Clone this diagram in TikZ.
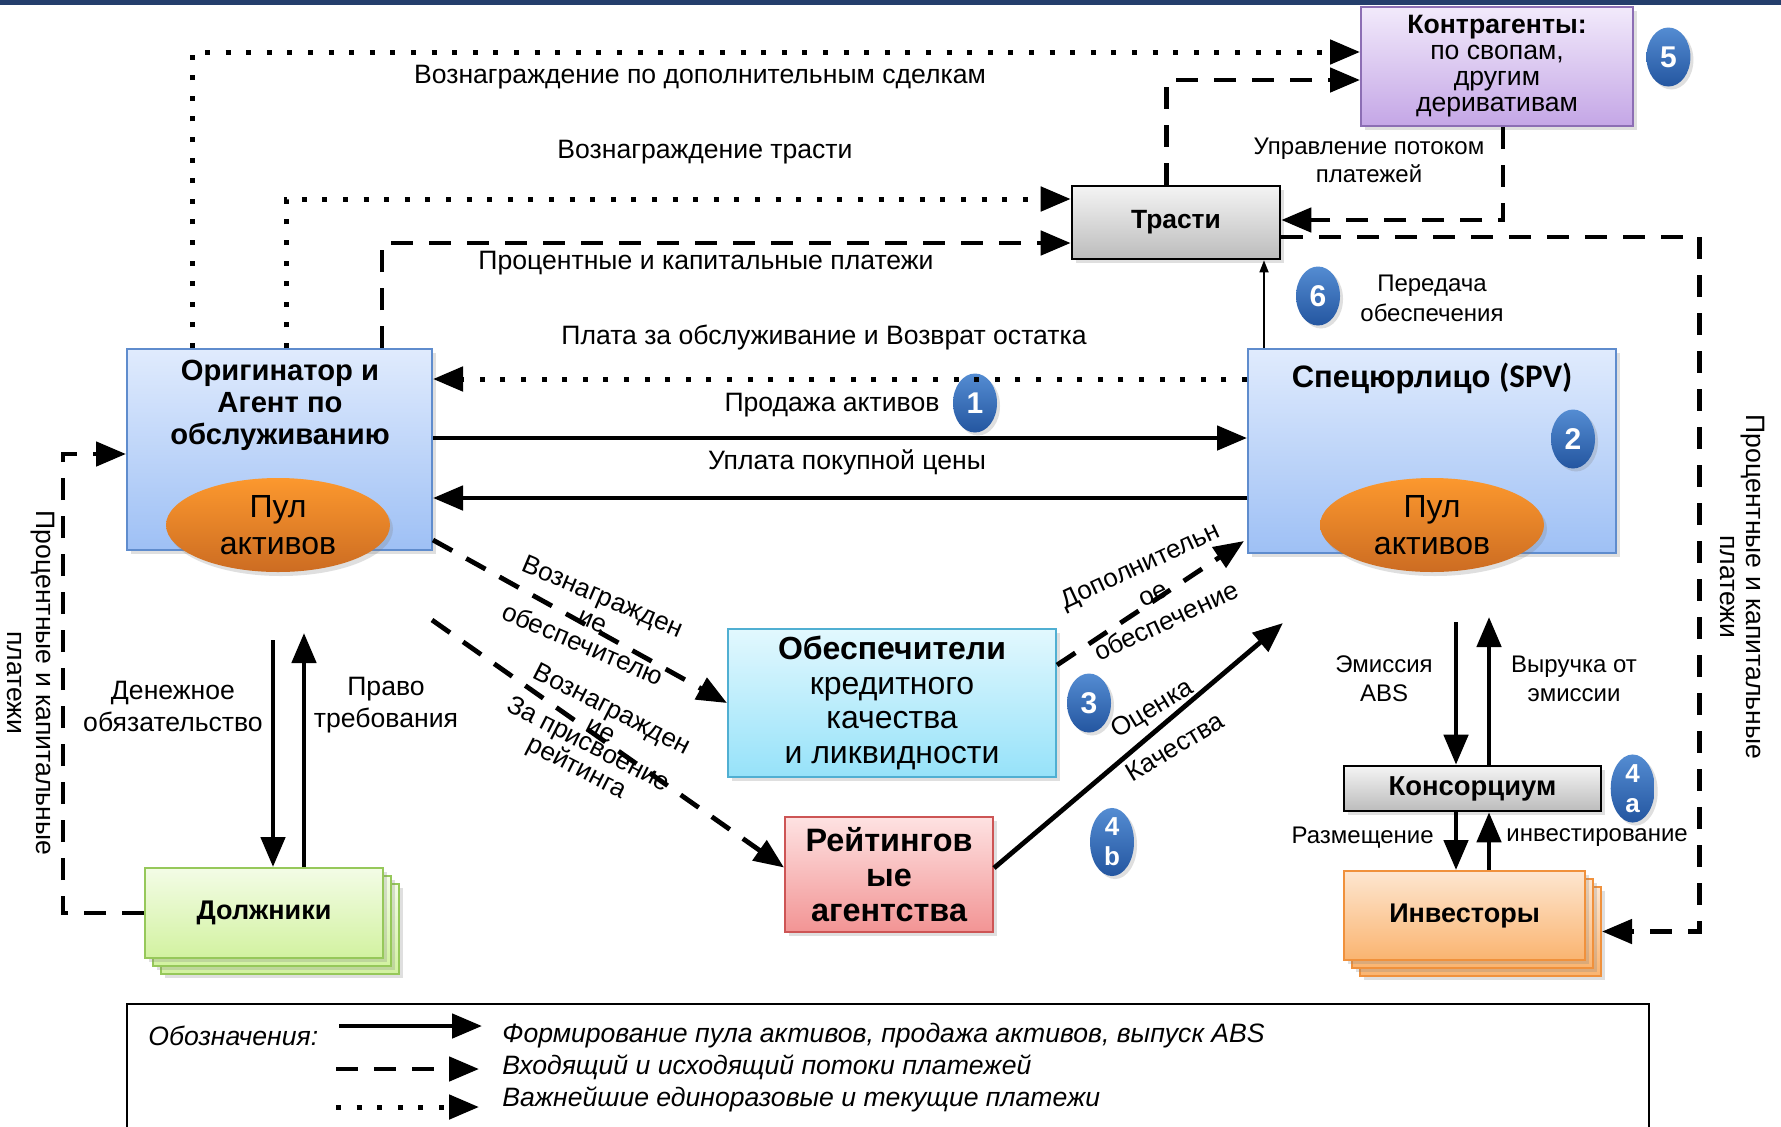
\documentclass[tikz,border=0pt]{standalone}
\usepackage{fontspec}
\setmainfont{Liberation Sans}
\newfontfamily\calib{Carlito}
\usetikzlibrary{arrows.meta,positioning,shapes.geometric,shadows}

\definecolor{navy}{RGB}{36,62,108}
\definecolor{bluetop}{RGB}{224,235,253}
\definecolor{bluebot}{RGB}{158,192,245}
\definecolor{blueedge}{RGB}{95,140,205}
\definecolor{pooltop}{RGB}{252,152,46}
\definecolor{poolbot}{RGB}{204,108,34}
\definecolor{violtop}{RGB}{242,234,251}
\definecolor{violbot}{RGB}{196,166,230}
\definecolor{violedge}{RGB}{140,110,180}
\definecolor{greytop}{RGB}{244,244,244}
\definecolor{greybot}{RGB}{188,188,188}
\definecolor{cyantop}{RGB}{226,248,254}
\definecolor{cyanbot}{RGB}{150,226,249}
\definecolor{cyanedge}{RGB}{80,175,210}
\definecolor{pinktop}{RGB}{254,226,226}
\definecolor{pinkbot}{RGB}{242,148,148}
\definecolor{pinkedge}{RGB}{205,85,85}
\definecolor{limetop}{RGB}{243,252,230}
\definecolor{limebot}{RGB}{210,242,160}
\definecolor{limeedge}{RGB}{150,200,90}
\definecolor{peachtop}{RGB}{253,230,208}
\definecolor{peachbot}{RGB}{250,180,112}
\definecolor{peachedge}{RGB}{240,145,60}
\definecolor{badgetop}{RGB}{84,140,210}
\definecolor{badgebot}{RGB}{36,86,160}

\tikzset{
    box/.style={rectangle,draw,line width=1pt,inner sep=0pt,align=center,
        drop shadow={opacity=0.25,shadow xshift=2pt,shadow yshift=-2pt}},
    origbox/.style={box,draw=blueedge,top color=bluetop,bottom color=bluebot},
    greybox/.style={box,draw=black,line width=1.3pt,top color=greytop,bottom color=greybot,
        font=\fontsize{13.2}{15}\selectfont\bfseries},
    violbox/.style={box,draw=violedge,top color=violtop,bottom color=violbot,
        font=\fontsize{13.3}{13}\selectfont},
    cyanbox/.style={box,draw=cyanedge,top color=cyantop,bottom color=cyanbot,
        font=\fontsize{16}{17.3}\selectfont},
    pinkbox/.style={box,draw=pinkedge,top color=pinktop,bottom color=pinkbot,
        font=\fontsize{16.2}{17.5}\selectfont\bfseries},
    limebox/.style={box,draw=limeedge,top color=limetop,bottom color=limebot,
        minimum width=119pt,minimum height=45pt,font=\fontsize{13.5}{15}\selectfont\bfseries},
    peachbox/.style={box,draw=peachedge,top color=peachtop,bottom color=peachbot,
        minimum width=120.5pt,minimum height=44.5pt,font=\fontsize{13.5}{15}\selectfont\bfseries},
    pool/.style={ellipse,inner sep=0pt,minimum width=112pt,minimum height=47pt,align=center,
        top color=pooltop,bottom color=poolbot,font=\fontsize{16}{18.5}\selectfont,
        drop shadow={opacity=0.25,shadow xshift=1.5pt,shadow yshift=-2pt}},
    badge/.style={ellipse,inner sep=0pt,minimum width=22pt,minimum height=29.5pt,align=center,
        top color=badgetop,bottom color=badgebot,text=white,
        font=\fontsize{15}{15}\selectfont\bfseries,
        drop shadow={opacity=0.25,shadow xshift=1.5pt,shadow yshift=-1.5pt}},
    lbl/.style={inner sep=0pt,align=center,font=\fontsize{13.3}{15}\selectfont},
    small/.style={lbl,font=\fontsize{12}{14.5}\selectfont},
    flow/.style={line width=2.4pt,-{Triangle[length=15pt,width=12pt]}},
    pay/.style={flow,dash pattern=on 11pt off 8pt},
    fee/.style={flow,line width=2.5pt,dash pattern=on 2.5pt off 7.8pt},
}

\begin{document}
\begin{tikzpicture}[x=0.5pt,y=-0.5pt]
    \useasboundingbox (0,0) rectangle (1781,1126);
    \fill[white] (0,0) rectangle (1781,1126);
    \fill[navy] (0,0) rectangle (1781,5);

    % participants
    \node[origbox,minimum width=152.5pt,minimum height=100.5pt] (orig) at (279.5,449.5) {};
    \node[lbl,font=\fontsize{14.6}{16}\selectfont\bfseries] (origtxt) at (280,405) {Оригинатор и\\Агент по\\обслуживанию};
    \node[pool] (origpool) at (278,525) {Пул\\активов};

    \node[origbox,minimum width=184pt,minimum height=102pt] (spv) at (1432,451) {};
    \node[lbl,font=\fontsize{15.5}{16}\selectfont\bfseries] (spvtxt) at (1432,378) {Спецюрлицо {\calib\fontsize{16.5}{16}\selectfont (SPV)}};
    \node[pool] (spvpool) at (1432,525) {Пул\\активов};

    \node[greybox,minimum width=104pt,minimum height=36.5pt] (trust) at (1176,222.5) {Трасти};
    \node[violbox,minimum width=136pt,minimum height=59.5pt] (kontr) at (1497,66.5) {\textbf{Контрагенты:}\\по свопам,\\другим\\деривативам};
    \node[cyanbox,minimum width=164pt,minimum height=74pt] (obesp) at (892,703) {\textbf{Обеспечители}\\кредитного\\качества\\и ликвидности};
    \node[pinkbox,minimum width=104pt,minimum height=57.5pt] (rating) at (889,874.5) {Рейтингов\\ые\\агентства};

    \node[limebox] (dolzh3) at (280,929) {};
    \node[limebox] (dolzh2) at (272,921) {};
    \node[limebox] (dolzh) at (264,913) {Должники};

    \node[greybox,minimum width=128.5pt,minimum height=22.5pt,font=\fontsize{13.7}{15}\selectfont\bfseries] (konsorc) at (1472.5,788.5) {Консорциум};
    \node[peachbox] (invest3) at (1480.5,931.5) {};
    \node[peachbox] (invest2) at (1472.5,923.5) {};
    \node[peachbox] (invest) at (1464.5,915.5) {Инвесторы};

    % numbered steps
    \node[badge] (b1) at (975,403) {1};
    \node[badge] (b2) at (1573,439) {2};
    \node[badge] (b3) at (1089,703) {3};
    \node[badge,right=4pt of konsorc,font=\fontsize{13}{15}\selectfont\bfseries] (b4a) {4\\a};
    \node[badge,font=\fontsize{13}{15}\selectfont\bfseries] (b4b) at (1112,842) {4\\b};
    \node[badge,right=6pt of kontr,yshift=4.75pt] (b5) {5};
    \node[badge] (b6) at (1318,296) {6};

    % payments above
    \draw[fee] ([xshift=33pt]orig.north west) |- ([yshift=7.25pt]kontr.west);
    \draw[fee] ([xshift=80pt]orig.north west) |- ([yshift=11.75pt]trust.west);
    \draw[pay] ([xshift=128pt]orig.north west) |- ([yshift=-10.25pt]trust.west);
    \draw[pay] ([xshift=48pt]trust.north west) |- ([yshift=-6.75pt]kontr.west);
    \draw[pay] ([xshift=71.5pt]kontr.south west) |- ([yshift=1.25pt]trust.east);
    \draw[pay] ([yshift=-7.25pt]trust.east) -- ++(209pt,0) |- (invest3.east);
    \draw[pay] (dolzh.west) -- ++(-40.5pt,0) |- ([yshift=-2.25pt]orig.west);

    \node[lbl] (lbldop) at (700,77) {Вознаграждение по дополнительным сделкам};
    \node[lbl] (lbltr) at (705,152) {Вознаграждение трасти};
    \node[lbl] (lblpk) at (706,263) {Процентные и капитальные платежи};
    \node[small,font=\fontsize{12}{14}\selectfont] (lblupr) at (1369,160) {Управление потоком\\платежей};
    \node[lbl] (lblright) at (1742,587) [rotate=-90,font=\fontsize{13.3}{13}\selectfont] {Процентные и капитальные\\платежи};
    \node[lbl] (lblleft) at (31,683) [rotate=-90,font=\fontsize{13.3}{14.5}\selectfont] {Процентные и капитальные\\платежи};

    % sale of the pool
    \coordinate (platR) at ([yshift=36pt]spv.west);
    \coordinate (prodL) at ([yshift=5.75pt]orig.east);
    \coordinate (uplR) at ([yshift=-23.5pt]spv.west);
    \coordinate (peredB) at ([xshift=8.5pt]spv.north west);
    \draw[fee] (platR) -- (platR -| orig.east);
    \draw[flow] (prodL) -- (prodL -| spv.west);
    \draw[flow] (uplR) -- (uplR -| orig.east);
    \draw[line width=0.8pt,-{Triangle[length=6pt,width=4.5pt]}] (peredB) -- (peredB |- trust.south);

    \node[lbl] (lblplat) at (824,337) {Плата за обслуживание и Возврат остатка};
    \node[lbl] (lblprod) at (832,405) {Продажа активов};
    \node[lbl] (lblupl) at (847,462) {Уплата покупной цены};
    \node[small,font=\fontsize{12}{15}\selectfont] (lblpered) at (1432,298) {Передача\\обеспечения};

    % support and rating
    \coordinate (ratestart) at (432,620);
    \coordinate (ratetip) at (1283,623);
    \draw[pay] ([yshift=5.5pt]orig.south east) -- (obesp.west);
    \draw[pay] (ratestart) -- ([yshift=3.5pt]rating.west);
    \draw[pay] ([yshift=19pt]obesp.east) -- ([shift={(-1.5pt,6.5pt)}]spv.south west);
    \draw[flow] ([yshift=3.25pt]rating.east) -- (ratetip);

    \node[lbl,rotate=-23,font=\fontsize{13}{13}\selectfont] (lblvozob) at (593,620) {Вознагражден\\ие\\обеспечителю};
    \node[lbl,rotate=-27,font=\fontsize{13}{12}\selectfont] (lblvozr) at (607,719) {Вознагражден\\ие};
    \node[lbl,rotate=-27,font=\fontsize{13}{13}\selectfont] (lblzapr) at (582,757) {За присвоение\\рейтинга};
    \node[lbl,rotate=25,font=\fontsize{13}{15.5}\selectfont] (lbldopob) at (1153,593) {Дополнительн\\ое\\обеспечение};
    \node[lbl,rotate=31,font=\fontsize{13}{22.5}\selectfont] (lblocen) at (1163,727) {Оценка\\Качества};

    % debtors
    \coordinate (dentop) at (273,640);
    \coordinate (pravtop) at (304,633);
    \draw[flow] (dentop) -- (dentop |- dolzh.north);
    \draw[flow] (pravtop |- dolzh.north) -- (pravtop);
    \node[lbl,font=\fontsize{13.3}{16}\selectfont] (lblden) at (173,706) {Денежное\\обязательство};
    \node[lbl,font=\fontsize{13.3}{16}\selectfont] (lblprav) at (386,705) {Право\\требования};

    % issue of ABS
    \coordinate (emtop) at (1456,622);
    \coordinate (vyrtop) at (1489,617);
    \draw[flow] (emtop) -- (emtop |- konsorc.north);
    \draw[flow] (vyrtop |- konsorc.north) -- (vyrtop);
    \draw[flow] (emtop |- konsorc.south) -- (emtop |- invest.north);
    \draw[flow] (vyrtop |- invest.north) -- (vyrtop |- konsorc.south);
    \node[small] (lblemis) at (1384,679) {Эмиссия\\ABS};
    \node[small] (lblvyr) at (1574,679) {Выручка от\\эмиссии};
    \node[small,anchor=east] (lblrazm) at (1434,838) {Размещение};
    \node[small,anchor=west] (lblinv) at (1506,838) {инвестирование};

    % legend
    \draw[line width=1.2pt] (127,1140) -- (127,1004) -- (1649,1004) -- (1649,1140);
    \coordinate (lga1) at (339,1026);
    \coordinate (lga2) at (482,1026);
    \coordinate (lgb1) at (336,1069);
    \coordinate (lgb2) at (479,1069);
    \coordinate (lgc1) at (336,1107);
    \coordinate (lgc2) at (479,1107);
    \draw[flow] (lga1) -- (lga2);
    \draw[pay] (lgb1) -- (lgb2);
    \draw[fee] (lgc1) -- (lgc2);
    \node[lbl,anchor=west,font=\fontsize{13.3}{15}\selectfont\itshape] (lgtitle) at (148,1036) {Обозначения:};
    \node[lbl,anchor=west,font=\fontsize{13.3}{15}\selectfont\itshape] (lgt1) at (502,1036) {Формирование пула активов, продажа активов, выпуск ABS};
    \node[lbl,anchor=west,font=\fontsize{13.3}{15}\selectfont\itshape] (lgt2) at (502,1067) {Входящий и исходящий потоки платежей};
    \node[lbl,anchor=west,font=\fontsize{13.3}{15}\selectfont\itshape] (lgt3) at (502,1099) {Важнейшие единоразовые и текущие платежи};
\end{tikzpicture}
\end{document}
